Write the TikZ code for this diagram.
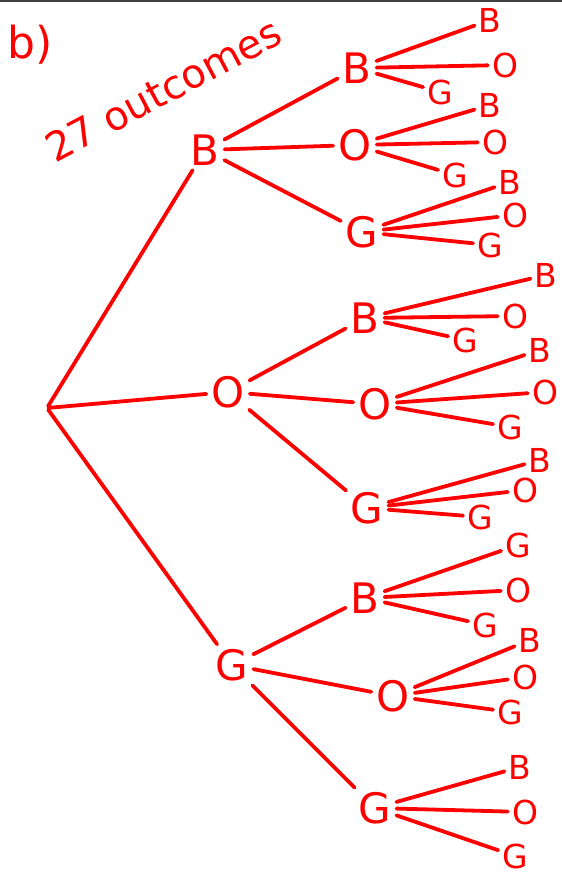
\documentclass[tikz,border=0pt]{standalone}
\usepackage{fontspec}
\setmainfont{DejaVu Sans}

\tikzset{
  ink/.style={red, line width=3.8pt, line cap=round, line join=round},
  branch/.style={ink, shorten >=2pt, shorten <=2pt},
  pick/.style={text=red, inner sep=3pt, font=\fontsize{42}{42}\selectfont},
  leaf/.style={text=red, inner sep=2pt, font=\fontsize{33}{33}\selectfont},
}

\begin{document}
\begin{tikzpicture}[x=1pt,y=-1pt]
  \useasboundingbox (0,0) rectangle (562,884);
  \draw[black!75, line width=1.5pt] (0,1) -- (562,1);

  % heading
  \node[text=red, font=\fontsize{44}{44}\selectfont] (part) at (30,45) {b)};
  \node[text=red, font=\fontsize{40}{40}\selectfont, rotate=28] (count) at (163,90) {27 outcomes};

  % first pick
  \coordinate (root) at (47,408);
  \node[pick] (b) at (205,150) {B};
  \node[pick] (o) at (228,392) {O};
  \node[pick] (g) at (232,665) {G};

  % second pick
  \foreach \n/\x/\y/\t in {bb/357/68/B, bo/355/145/O, bg/362/232/G,
                           ob/365/318/B, oo/375/404/O, og/367/508/G,
                           gb/365/598/B, go/393/696/O, gg/375/808/G}
    \node[pick] (\n) at (\x,\y) {\t};

  % third pick
  \foreach \n/\x/\y/\t in {bbb/490/20/B, bbo/505/65/O, bbg/440/92/G,
                           bob/490/105/B, boo/495/142/O, bog/455/175/G,
                           bgb/510/182/B, bgo/515/215/O, bgg/490/245/G,
                           obb/546/275/B, obo/515/316/O, obg/465/340/G,
                           oob/540/350/B, ooo/545/392/O, oog/510/427/G,
                           ogb/540/460/B, ogo/525/490/O, ogg/480/517/G,
                           gbb/518/545/G, gbo/518/590/O, gbg/485/625/G,
                           gob/530/640/B, goo/525/677/O, gog/510/712/G,
                           ggb/520/767/B, ggo/525/812/O, ggg/515/856/G}
    \node[leaf] (\n) at (\x,\y) {\t};

  % branches
  \foreach \c in {b,o,g}
    \draw[branch] (root) -- (\c);
  \foreach \p in {b,o,g}
    \foreach \c in {b,o,g}
      \draw[branch] (\p) -- (\p\c);
  \foreach \p in {bb,bo,bg,ob,oo,og,gb,go,gg}
    \foreach \c in {b,o,g}
      \draw[branch] (\p) -- (\p\c);
\end{tikzpicture}
\end{document}
